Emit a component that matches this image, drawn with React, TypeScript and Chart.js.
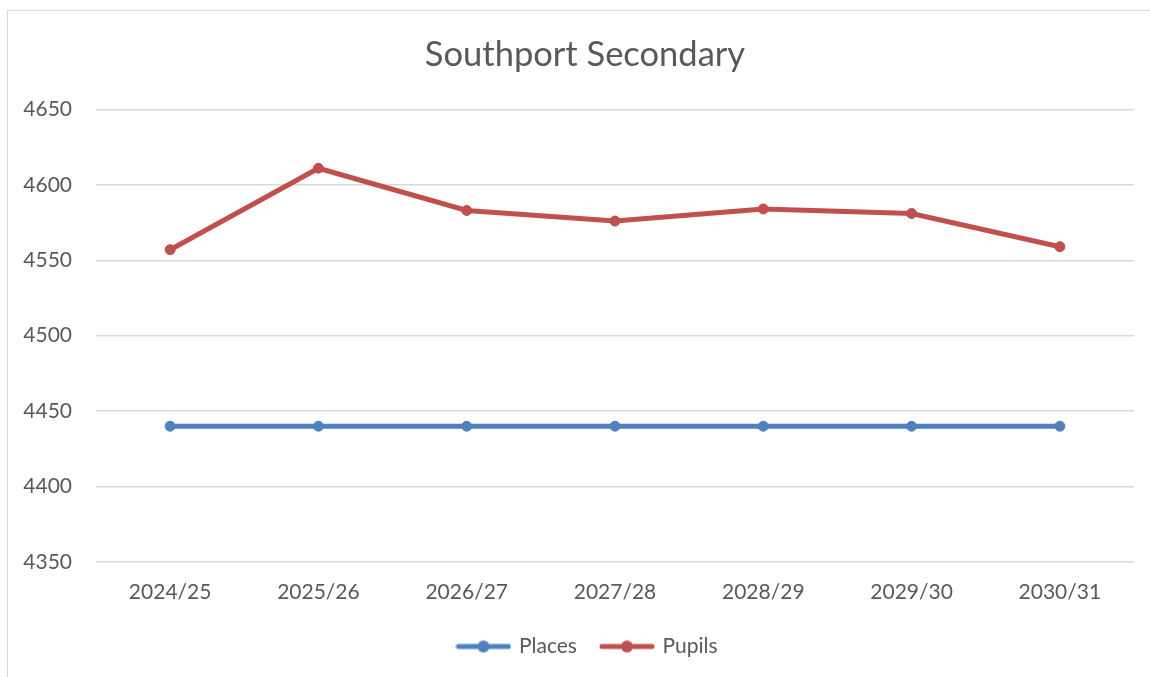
import React, { useEffect, useRef } from "react";
import { Chart, registerables } from "chart.js";

Chart.register(...registerables);

const categories = ["2024/25", "2025/26", "2026/27", "2027/28", "2028/29", "2029/30", "2030/31"];
const places = [4440, 4440, 4440, 4440, 4440, 4440, 4440];
const pupils = [4557, 4611, 4583, 4576, 4584, 4581, 4559];
const yMin = 4350;
const yMax = 4650;
const yStep = 50;

const BLUE = "#4F81BD";
const RED = "#C0504D";
const TEXT = "#595959";
const GRID = "#D9D9D9";
const FONT = "Lato, 'Open Sans', sans-serif";

function legendIcon(color: string): HTMLCanvasElement {
  const c = document.createElement("canvas");
  c.width = 56;
  c.height = 14;
  const ctx = c.getContext("2d")!;
  ctx.strokeStyle = color;
  ctx.lineWidth = 5;
  ctx.lineCap = "round";
  ctx.beginPath();
  ctx.moveTo(3, 7);
  ctx.lineTo(53, 7);
  ctx.stroke();
  ctx.fillStyle = color;
  ctx.beginPath();
  ctx.arc(28, 7, 6, 0, Math.PI * 2);
  ctx.fill();
  return c;
}

// Title and legend in the reference are centred on the outer frame, a little right of the canvas centre.
const shiftBlocks = {
  id: "shiftBlocks",
  afterLayout(chart: any) {
    if (chart.titleBlock) {
      chart.titleBlock.left += 18;
      chart.titleBlock.right += 18;
    }
    if (chart.legend) {
      chart.legend.left += 21;
      chart.legend.right += 21;
    }
  },
};

export default function App() {
  const ref = useRef<HTMLCanvasElement>(null);

  useEffect(() => {
    if (!ref.current) return;
    const icons = [legendIcon(BLUE), legendIcon(RED)];
    const chart = new Chart(ref.current, {
      type: "line",
      data: {
        labels: categories,
        datasets: [
          {
            label: "Places",
            data: places,
            borderColor: BLUE,
            backgroundColor: BLUE,
            borderWidth: 5,
            pointRadius: 5,
            pointBorderWidth: 1,
            pointBackgroundColor: BLUE,
            pointBorderColor: BLUE,
            tension: 0,
          },
          {
            label: "Pupils",
            data: pupils,
            borderColor: RED,
            backgroundColor: RED,
            borderWidth: 5,
            pointRadius: 5,
            pointBorderWidth: 1,
            pointBackgroundColor: RED,
            pointBorderColor: RED,
            tension: 0,
          },
        ],
      },
      options: {
        responsive: false,
        animation: false,
        layout: { padding: { top: 20, left: 0, right: 16, bottom: 10 } },
        plugins: {
          title: {
            display: true,
            text: "Southport Secondary",
            color: TEXT,
            font: { family: FONT, size: 34.5, weight: "normal" },
            padding: { top: 14, bottom: 34 },
          },
          legend: {
            position: "bottom",
            labels: {
              color: TEXT,
              font: { family: FONT, size: 21 },
              usePointStyle: true,
              pointStyleWidth: 50,
              padding: 25,
              generateLabels: (ch: any) => {
                const items = Chart.defaults.plugins.legend.labels.generateLabels(ch);
                return items.map((it: any, i: number) => ({ ...it, pointStyle: icons[i] }));
              },
            },
          },
          tooltip: { enabled: false },
        },
        scales: {
          x: {
            offset: true,
            grid: { display: false, drawTicks: false },
            border: { display: false },
            ticks: { color: TEXT, font: { family: FONT, size: 21 }, padding: 18, maxRotation: 0 },
            afterFit: (s: any) => {
              s.height = 49;
            },
          },
          y: {
            min: yMin,
            max: yMax,
            grid: { color: GRID, lineWidth: 1.5, drawTicks: false },
            border: { display: false },
            ticks: {
              stepSize: yStep,
              color: TEXT,
              font: { family: FONT, size: 21 },
              padding: 24,
              callback: (v: any) => String(v),
            },
            afterFit: (s: any) => {
              s.width = 96;
            },
          },
        },
      },
      plugins: [shiftBlocks],
    });
    return () => chart.destroy();
  }, []);

  return (
    <div style={{ position: "fixed", left: 0, top: 0, width: 1150, height: 677, background: "#fff" }}>
      <div
        style={{
          position: "absolute",
          left: 7,
          top: 10,
          right: -10,
          bottom: -10,
          borderLeft: `1.5px solid ${GRID}`,
          borderTop: `1.5px solid ${GRID}`,
        }}
      />
      <canvas ref={ref} width={1150} height={677} style={{ position: "absolute", left: 0, top: 0 }} />
    </div>
  );
}
